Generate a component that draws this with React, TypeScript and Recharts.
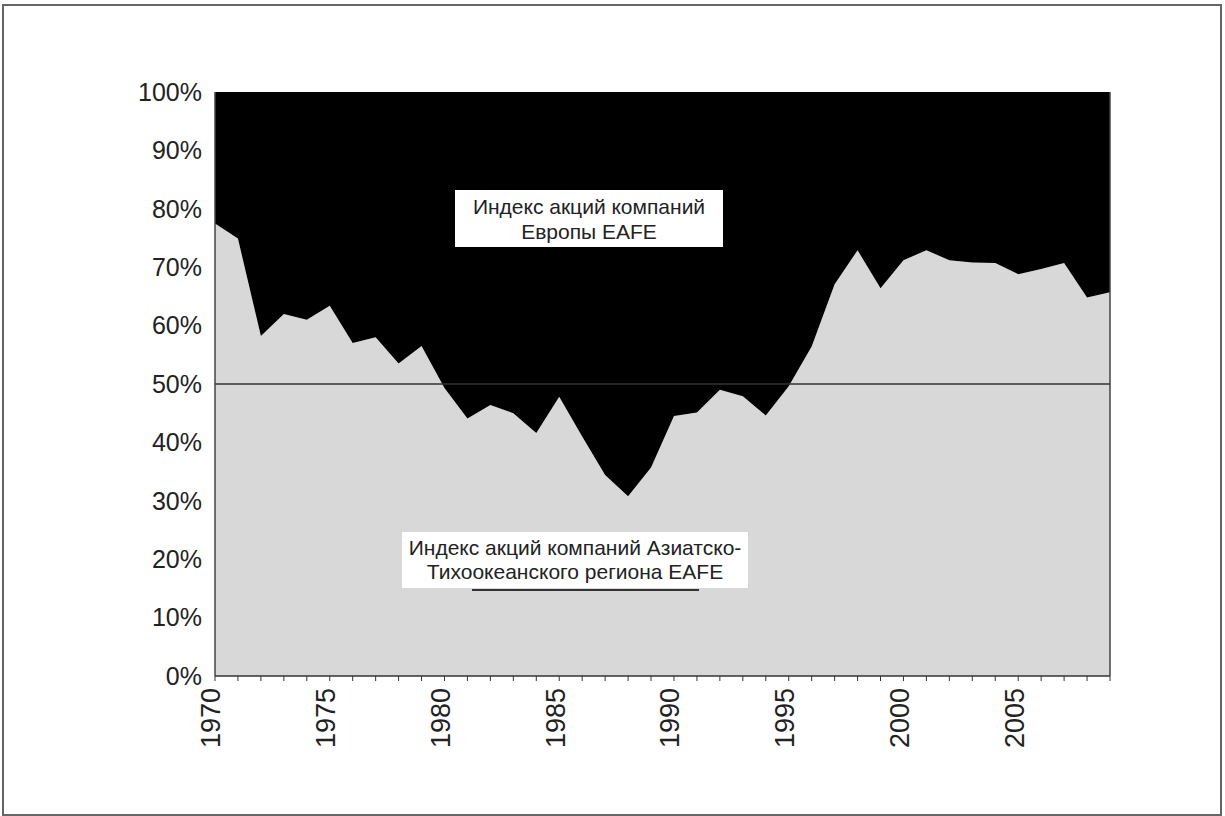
import { Area, AreaChart, ReferenceLine, XAxis, YAxis } from 'recharts'

const years = [
  1970, 1971, 1972, 1973, 1974, 1975, 1976, 1977, 1978, 1979,
  1980, 1981, 1982, 1983, 1984, 1985, 1986, 1987, 1988, 1989,
  1990, 1991, 1992, 1993, 1994, 1995, 1996, 1997, 1998, 1999,
  2000, 2001, 2002, 2003, 2004, 2005, 2006, 2007, 2008, 2009,
]

// доля Азиатско-Тихоокеанского региона (нижняя, серая)
const asiaShare = [
  77.5, 74.9, 58.2, 62.0, 61.0, 63.4, 57.0, 58.0, 53.5, 56.5,
  49.3, 44.1, 46.4, 45.0, 41.6, 47.8, 41.0, 34.4, 30.8, 35.7,
  44.5, 45.1, 49.0, 47.9, 44.6, 49.6, 56.4, 67.1, 72.9, 66.4,
  71.2, 72.9, 71.2, 70.8, 70.7, 68.8, 69.7, 70.7, 64.8, 65.7,
]

// доля Европы (верхняя, чёрная)
const europeShare = [
  22.5, 25.1, 41.8, 38.0, 39.0, 36.6, 43.0, 42.0, 46.5, 43.5,
  50.7, 55.9, 53.6, 55.0, 58.4, 52.2, 59.0, 65.6, 69.2, 64.3,
  55.5, 54.9, 51.0, 52.1, 55.4, 50.4, 43.6, 32.9, 27.1, 33.6,
  28.8, 27.1, 28.8, 29.2, 29.3, 31.2, 30.3, 29.3, 35.2, 34.3,
]

const yTicks = [0, 10, 20, 30, 40, 50, 60, 70, 80, 90, 100]

const FONT = '"Liberation Sans", Arial, sans-serif'

const data = years.map((year, i) => ({
  year,
  asia: asiaShare[i],
  europe: europeShare[i],
}))

function YearTick(props: any) {
  const { x, y, payload } = props
  if (payload.value % 5 !== 0) return null
  return (
    <g transform={`translate(${x},${y + 5})`}>
      <text
        transform="rotate(-90)"
        textAnchor="end"
        dy="0.2em"
        fontSize={27}
        fontFamily={FONT}
        fill="#222"
      >
        {payload.value}
      </text>
    </g>
  )
}

export default function App() {
  return (
    <div style={{ position: 'absolute', left: 0, top: 0, width: 1225, height: 816, background: '#fff' }}>
      <div
        style={{
          position: 'absolute',
          left: 2,
          top: 4,
          width: 1216,
          height: 808,
          border: '2px solid #666',
        }}
      />
      <AreaChart
        width={1225}
        height={816}
        data={data}
        margin={{ top: 92, right: 115, bottom: 0, left: 0 }}
        style={{ position: 'absolute', left: 0, top: 0 }}
      >
        <XAxis
          dataKey="year"
          interval={0}
          tick={<YearTick />}
          tickSize={5}
          height={140}
          axisLine={{ stroke: '#333', strokeWidth: 1.5 }}
          tickLine={{ stroke: '#333' }}
        />
        <YAxis
          width={215}
          domain={[0, 100]}
          ticks={yTicks}
          allowDataOverflow
          tickFormatter={(v: number) => `${v}%`}
          tickLine={false}
          tickMargin={7}
          axisLine={{ stroke: '#444', strokeWidth: 1.5 }}
          tick={{ fontSize: 25, fill: '#222', fontFamily: FONT }}
        />
        <Area
          type="linear"
          dataKey="asia"
          stackId="a"
          stroke="none"
          fill="#d8d8d8"
          fillOpacity={1}
          isAnimationActive={false}
        />
        <Area
          type="linear"
          dataKey="europe"
          stackId="a"
          stroke="none"
          fill="#000"
          fillOpacity={1}
          isAnimationActive={false}
        />
        <ReferenceLine y={50} stroke="#333" strokeWidth={1.5} />
        <ReferenceLine x={2009} stroke="#444" strokeWidth={1.5} />
      </AreaChart>

      {/* подписи */}
      <div
        style={{
          position: 'absolute',
          left: 455,
          top: 190,
          width: 268,
          height: 57,
          background: '#fff',
          fontFamily: FONT,
          fontSize: 21,
          lineHeight: '25px',
          color: '#222',
          textAlign: 'center',
          display: 'flex',
          flexDirection: 'column',
          justifyContent: 'center',
        }}
      >
        <div>Индекс акций компаний</div>
        <div>Европы EAFE</div>
      </div>
      <div
        style={{
          position: 'absolute',
          left: 402,
          top: 532,
          width: 346,
          height: 56,
          background: '#fff',
          fontFamily: FONT,
          fontSize: 21,
          lineHeight: '24px',
          color: '#222',
          textAlign: 'center',
          display: 'flex',
          flexDirection: 'column',
          justifyContent: 'center',
        }}
      >
        <div>Индекс акций компаний Азиатско-</div>
        <div>Тихоокеанского региона EAFE</div>
      </div>
      <div style={{ position: 'absolute', left: 472, top: 589, width: 227, height: 2, background: '#333' }} />
    </div>
  )
}
